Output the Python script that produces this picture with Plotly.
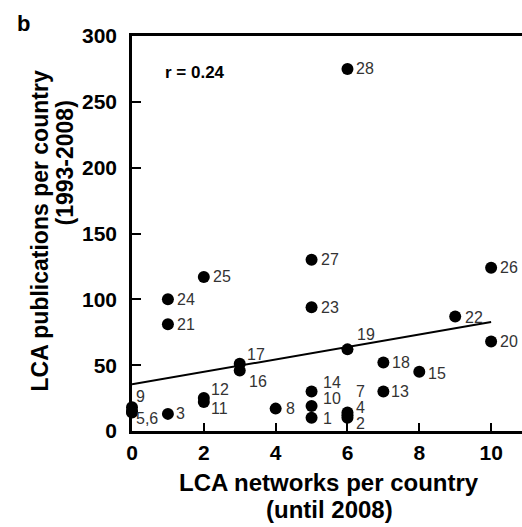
import plotly.graph_objects as go

# Country index, LCA networks (until 2008) and LCA publications (1993-2008)
country_ids = [1, 2, 3, 4, 5, 6, 7, 8, 9, 10, 11, 12, 13, 14,
               15, 16, 17, 18, 19, 20, 21, 22, 23, 24, 25, 26, 27, 28]
networks = [5, 6, 1, 6, 0, 0, 6, 4, 0, 5, 2, 2, 7, 5,
            8, 3, 3, 7, 6, 10, 1, 9, 5, 1, 2, 10, 5, 6]
publications = [10, 10, 13, 12, 15, 14, 14, 17, 18, 19, 22, 25, 30, 30,
                45, 46, 51, 52, 62, 68, 81, 87, 94, 100, 117, 124, 130, 275]
point_labels = ["1", "2", "3", "4", "5,6", "", "7", "8", "9", "10", "11", "12", "13", "14",
                "15", "16", "17", "18", "19", "20", "21", "22", "23", "24", "25", "26", "27", "28"]

# Linear trend line end points
trend_x = [0, 10]
trend_y = [35.5, 82.7]
r_text = "r = 0.24"

x_ticks = [0, 2, 4, 6, 8, 10]
y_ticks = [0, 50, 100, 150, 200, 250, 300]

# Label offsets in screen pixels (dx to the label's left edge, dy down)
label_offsets = {
    "1": (10, 1), "2": (8, 6), "3": (7, 0), "4": (8, -8), "5,6": (3, 7),
    "7": (8, -21), "8": (9, 0), "9": (3, -11), "10": (10, -7), "11": (6, 6),
    "12": (6, -9), "13": (7, 0), "14": (10, -9), "15": (8, 2), "16": (8, 11),
    "17": (6, -9), "18": (8, 0), "19": (9, -15), "22": (9, 1),
}
default_offset = (8, 0)

FONT = "Liberation Sans, Arial, Helvetica, sans-serif"
BOLD_FONT = dict(family=FONT, size=21, color="black", weight="bold")

fig = go.Figure()

fig.add_trace(go.Scatter(
    x=trend_x, y=trend_y, mode="lines",
    line=dict(color="black", width=2),
    hoverinfo="skip", showlegend=False,
))

fig.add_trace(go.Scatter(
    x=networks, y=publications, mode="markers",
    marker=dict(color="black", size=12, line=dict(width=0)),
    cliponaxis=False, showlegend=False,
    text=point_labels,
))

annotations = []
for xv, yv, lab in zip(networks, publications, point_labels):
    if not lab:
        continue
    dx, dy = label_offsets.get(lab, default_offset)
    annotations.append(dict(
        x=xv, y=yv, xref="x", yref="y", text=lab, showarrow=False,
        xanchor="left", yanchor="middle", xshift=dx, yshift=-dy,
        borderpad=0,
        font=dict(family=FONT, size=16, color="#333333"),
    ))

# Correlation coefficient
annotations.append(dict(
    x=0.86, y=272, xref="x", yref="y", text=r_text, showarrow=False,
    xanchor="left", yanchor="middle",
    font=dict(family=FONT, size=17, color="black", weight="bold"),
))

# Panel letter
annotations.append(dict(
    x=0, y=1, xref="paper", yref="paper", text="b", showarrow=False,
    xanchor="left", yanchor="middle", xshift=-117, yshift=13,
    font=dict(family=FONT, size=22, color="black", weight="bold"),
))

# Axis titles
annotations.append(dict(
    x=0, y=0.5, xref="paper", yref="paper", text="LCA publications per country",
    showarrow=False, textangle=-90, xanchor="center", yanchor="middle",
    xshift=-93, yshift=2,
    font=dict(family=FONT, size=23, color="black", weight="bold"),
))
annotations.append(dict(
    x=0, y=0.5, xref="paper", yref="paper", text="(1993-2008)",
    showarrow=False, textangle=-90, xanchor="center", yanchor="middle",
    xshift=-68, yshift=70,
    font=dict(family=FONT, size=23, color="black", weight="bold"),
))
annotations.append(dict(
    x=0.5, y=0, xref="paper", yref="paper", text="LCA networks per country",
    showarrow=False, xanchor="center", yanchor="middle", xshift=2, yshift=-51,
    font=dict(family=FONT, size=24, color="black", weight="bold"),
))
annotations.append(dict(
    x=0.5, y=0, xref="paper", yref="paper", text="(until 2008)",
    showarrow=False, xanchor="center", yanchor="middle", xshift=2, yshift=-78,
    font=dict(family=FONT, size=24, color="black", weight="bold"),
))

fig.update_layout(
    width=522, height=527,
    margin=dict(l=132, r=0, t=36, b=96, pad=0),
    paper_bgcolor="white", plot_bgcolor="white",
    showlegend=False,
    annotations=annotations,
    xaxis=dict(
        range=[0, 10.86], tickvals=x_ticks, ticktext=[str(v) for v in x_ticks],
        showgrid=False, zeroline=False,
        showline=True, linecolor="black", linewidth=2.5, mirror=True,
        ticks="inside", ticklen=8, tickwidth=2, tickcolor="black",
        tickfont=BOLD_FONT, ticklabelstandoff=1,
    ),
    yaxis=dict(
        range=[0, 300], tickvals=y_ticks, ticktext=[str(v) for v in y_ticks],
        showgrid=False, zeroline=False,
        showline=True, linecolor="black", linewidth=2.5, mirror=False,
        ticks="inside", ticklen=9, tickwidth=2, tickcolor="black",
        tickfont=BOLD_FONT, ticklabelstandoff=8,
    ),
)

fig.write_html("out.html")
